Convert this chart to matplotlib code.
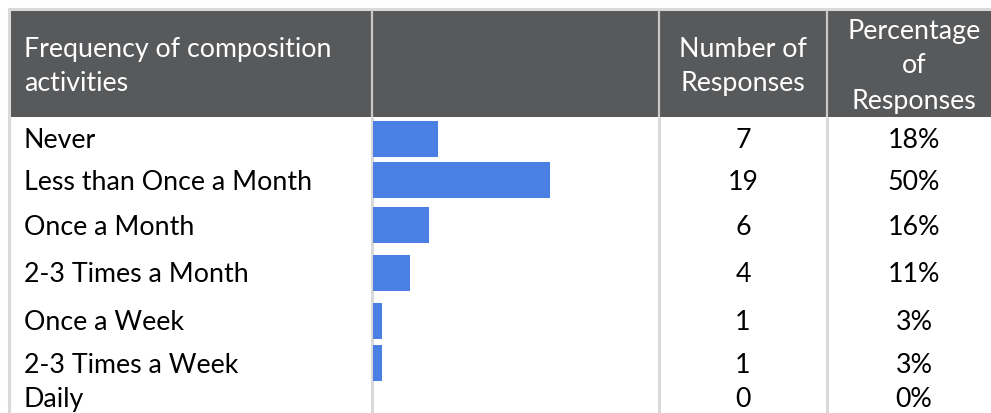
import matplotlib
matplotlib.use("Agg")
import matplotlib.pyplot as plt

# ---- data ----
categories = ["Never", "Less than Once a Month", "Once a Month", "2-3 Times a Month",
              "Once a Week", "2-3 Times a Week", "Daily"]
counts = [7, 19, 6, 4, 1, 1, 0]
percent_labels = ["18%", "50%", "16%", "11%", "3%", "3%", "0%"]
header_labels = ["Frequency of composition\nactivities", "", "Number of\nResponses",
                 "Percentage\nof\nResponses"]

# ---- layout (pixels) ----
W, H = 991, 413
row_y = [138.5, 180, 225, 272.5, 320.5, 363, 397.5]
bar_h = 36
col_edges = [9, 372, 659, 827, 1003]
header_top, header_bot = 10, 117
FONT = "Lato"
FS = 19.3
CAP = 9.6   # half cap-height in px
HEAD = "#58595b"
BLUE = "#4a80e3"
GRID = "#d9d9d9"

fig = plt.figure(figsize=(W / 100, H / 100), dpi=100)
ax = fig.add_axes([0, 0, 1, 1])
ax.set_xlim(0, W)
ax.set_ylim(H, 0)
ax.axis("off")

# top border
ax.plot([8, W], [8.5, 8.5], color=GRID, lw=2.2, solid_capstyle="butt")
# header background
ax.add_patch(plt.Rectangle((10, header_top), W - 10, header_bot - header_top,
                           facecolor=HEAD, edgecolor="none"))
# left border
ax.plot([9, 9], [8, H], color=GRID, lw=2.2, solid_capstyle="butt")
# column separators
for x in col_edges[1:4]:
    ax.plot([x, x], [header_top, header_bot], color="#c8c8c8", lw=1.6, solid_capstyle="butt")
    ax.plot([x, x], [header_bot, H], color=GRID, lw=2.2, solid_capstyle="butt")

# header text, line by line
def header(label, x, centers, ha):
    for line, yc in zip(label.split("\n"), centers):
        ax.text(x, yc + CAP, line, ha=ha, va="baseline", color="white",
                fontsize=FS, family=FONT)

header(header_labels[0], 24, [47, 81], "left")
header(header_labels[2], 743, [47, 81], "center")
header(header_labels[3], 914, [29, 63, 99], "center")

# body text
for y, cat, n, p in zip(row_y, categories, counts, percent_labels):
    ax.text(24, y + CAP, cat, ha="left", va="baseline", color="black", fontsize=FS, family=FONT)
    ax.text(743, y + CAP, str(n), ha="center", va="baseline", color="black", fontsize=FS, family=FONT)
    ax.text(914, y + CAP, p, ha="center", va="baseline", color="black", fontsize=FS, family=FONT)

# bars in their own axes (x in counts)
px_per_unit = 9.32
bx0, bx1 = 373, 659
bax = fig.add_axes([bx0 / W, 0, (bx1 - bx0) / W, 1])
bax.set_xlim(0, (bx1 - bx0) / px_per_unit)
bax.set_ylim(H, 0)
bax.axis("off")
bax.barh(row_y, counts, height=bar_h, left=0, color=BLUE)

fig.savefig("out.png", dpi=100)
